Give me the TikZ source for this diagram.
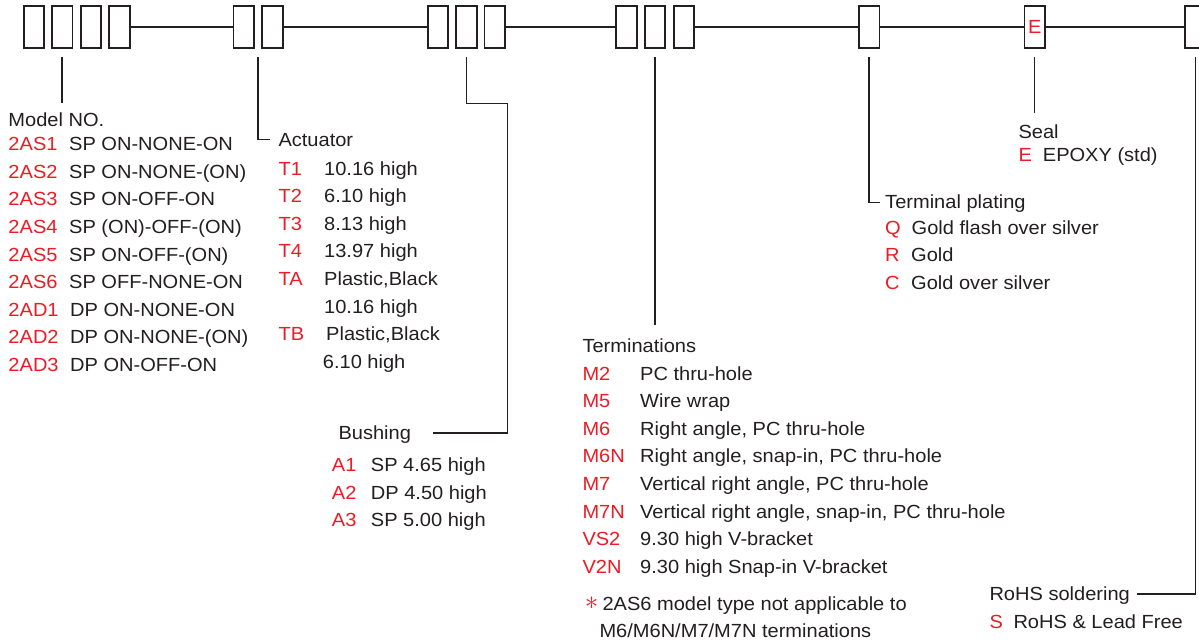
\documentclass[tikz,border=0pt]{standalone}
\usepackage{fontspec}
\usepackage{graphicx}
\setmainfont{Liberation Sans}[FakeStretch=1.055]
\usetikzlibrary{calc}
\definecolor{cred}{RGB}{237,28,36}
\definecolor{cblk}{RGB}{35,31,32}
\begin{document}
\begin{tikzpicture}[x=1pt,y=-1pt,
  box/.style={draw=cblk, line width=1.9pt, minimum width=20.5pt, minimum height=42.2pt, inner sep=0pt, outer sep=0pt},
  trunk/.style={draw=cblk, line width=1.8pt},
  conn/.style={draw=cblk, line width=1.5pt},
  txt/.style={anchor=base west, inner sep=0pt, text=cblk, font=\fontsize{19}{22}\selectfont},
  code/.style={txt, text=cred}]
\clip (0,0) rectangle (1199,640);
\fill[white] (0,0) rectangle (1199,640);
% boxes
\node[box] (b1a) at (33.8,27) {};
\node[box] (b1b) at (62.2,27) {};
\node[box] (b1c) at (90.8,27) {};
\node[box] (b1d) at (119.5,27) {};
\node[box] (b2a) at (243.7,27) {};
\node[box] (b2b) at (272.4,27) {};
\node[box] (b3a) at (438.1,27) {};
\node[box] (b3b) at (466.4,27) {};
\node[box] (b3c) at (494.7,27) {};
\node[box] (b4a) at (626.5,27) {};
\node[box] (b4b) at (655.1,27) {};
\node[box] (b4c) at (683.8,27) {};
\node[box] (b5) at (869.2,27) {};
\node[box, text=cred, font=\fontsize{19}{22}\selectfont] (b6) at (1034.7,27) {E};
\node[box] (b7) at (1195.3,27) {};
% trunk
\draw[trunk] (b1d.east) -- (b2a.west);
\draw[trunk] (b2b.east) -- (b3a.west);
\draw[trunk] (b3c.east) -- (b4a.west);
\draw[trunk] (b4c.east) -- (b5.west);
\draw[trunk] (b5.east) -- (b6.west);
\draw[trunk] (b6.east) -- (b7.west);

% Model NO.
\node[txt] (modelh) at (8.3,126.7) {Model NO.};
\foreach \c/\d [count=\i from 0] in {2AS1/SP ON-NONE-ON, 2AS2/SP ON-NONE-(ON), 2AS3/SP ON-OFF-ON, 2AS4/SP (ON)-OFF-(ON), 2AS5/SP ON-OFF-(ON), 2AS6/SP OFF-NONE-ON}{
  \node[code] (mc\i) at (8.3,150.7+27.6*\i) {\c};
  \node[txt] (md\i) at (69,150.7+27.6*\i) {\d};
}
\foreach \c/\d [count=\i from 6] in {2AD1/DP ON-NONE-ON, 2AD2/DP ON-NONE-(ON), 2AD3/DP ON-OFF-ON}{
  \node[code] (mc\i) at (8.3,150.7+27.6*\i) {\c};
  \node[txt] (md\i) at (70,150.7+27.6*\i) {\d};
}
\draw[conn] ($(b1b.south)+(0,9.3)$) -- ++(0,45.7);

% Actuator
\node[txt] (acth) at (278.3,146.7) {Actuator};
\node[code] (ac1) at (278.3,175) {T1};
\node[txt] (ad1) at (324,175) {10.16 high};
\node[code] (ac2) at (278.3,202.6) {T2};
\node[txt] (ad2) at (324,202.6) {6.10 high};
\node[code] (ac3) at (278.3,230.2) {T3};
\node[txt] (ad3) at (324,230.2) {8.13 high};
\node[code] (ac4) at (278.3,257.8) {T4};
\node[txt] (ad4) at (324,257.8) {13.97 high};
\node[code] (ac5) at (278.3,285.4) {TA};
\node[txt] (ad5) at (324,285.4) {Plastic,Black};
\node[txt] (ad5b) at (324,313) {10.16 high};
\node[code] (ac6) at (278.3,340.6) {TB};
\node[txt] (ad6) at (326,340.6) {Plastic,Black};
\node[txt] (ad6b) at (322.7,368.2) {6.10 high};
\coordinate (actTop) at ($(b2a.south east)!0.5!(b2b.south west)+(0,9.3)$);
\draw[conn] (actTop) |- ($(acth.west)+(-8,-1)$);

% Bushing
\node[txt] (bush) at (338.3,439.3) {Bushing};
\node[code] (bc1) at (331.7,471.7) {A1};
\node[txt] (bd1) at (370.7,471.7) {SP 4.65 high};
\node[code] (bc2) at (331.7,499.3) {A2};
\node[txt] (bd2) at (370.7,499.3) {DP 4.50 high};
\node[code] (bc3) at (331.7,526.7) {A3};
\node[txt] (bd3) at (370.7,526.7) {SP 5.00 high};
\coordinate (bushA) at (507.7,103.3);
\coordinate (bushB) at (433,433);
\draw[conn] ($(b3b.south)+(0,9.3)$) |- (bushA) |- (bushB);

% Terminations
\node[txt] (termh) at (582.3,352.7) {Terminations};
\foreach \c/\d [count=\i from 0] in {M2/PC thru-hole, M5/Wire wrap, M6/{Right angle, PC thru-hole}, M6N/{Right angle, snap-in, PC thru-hole}, M7/{Vertical right angle, PC thru-hole}, M7N/{Vertical right angle, snap-in, PC thru-hole}, VS2/9.30 high V-bracket, V2N/9.30 high Snap-in V-bracket}{
  \node[code] (tc\i) at (582.3,380+27.6*\i) {\c};
  \node[txt] (td\i) at (640,380+27.6*\i) {\d};
}
\node[inner sep=0pt, text=cred, font=\fontsize{10}{10}\selectfont] (star) at (591.7,603.5) {\scalebox{2.7}{$\ast$}};
\node[txt] (note1) at (602.3,610) {2AS6 model type not applicable to};
\node[txt] (note2) at (599.3,637.3) {M6/M6N/M7/M7N terminations};
\draw[conn] ($(b4b.south)+(0,9.3)$) -- ($(b4b.south |- termh.north)+(0,-14)$);

% Terminal plating
\node[txt] (tph) at (885,208.3) {Terminal plating};
\node[code] (pc1) at (885,234.3) {Q};
\node[txt] (pd1) at (911.5,234.3) {Gold flash over silver};
\node[code] (pc2) at (885,261.7) {R};
\node[txt] (pd2) at (911,261.7) {Gold};
\node[code] (pc3) at (885,289.3) {C};
\node[txt] (pd3) at (911,289.3) {Gold over silver};
\draw[conn] ($(b5.south)+(0,9.3)$) |- ($(tph.west)+(-5,-1)$);

% Seal
\node[txt] (sealh) at (1018.3,138.3) {Seal};
\node[code] (sc1) at (1018.3,161) {E};
\node[txt] (sd1) at (1042.7,161) {EPOXY (std)};
\draw[conn] ($(b6.south)+(0,9.3)$) -- ++(0,55.7);

% RoHS
\node[txt] (rohsh) at (989.3,600.7) {RoHS soldering};
\node[code] (rc1) at (989.3,628.3) {S};
\node[txt] (rd1) at (1013.3,628.3) {RoHS \& Lead Free};
\coordinate (rohsEnd) at (1137,594);
\draw[conn] ($(b7.south)+(0,9.3)$) |- (rohsEnd);
\end{tikzpicture}
\end{document}
